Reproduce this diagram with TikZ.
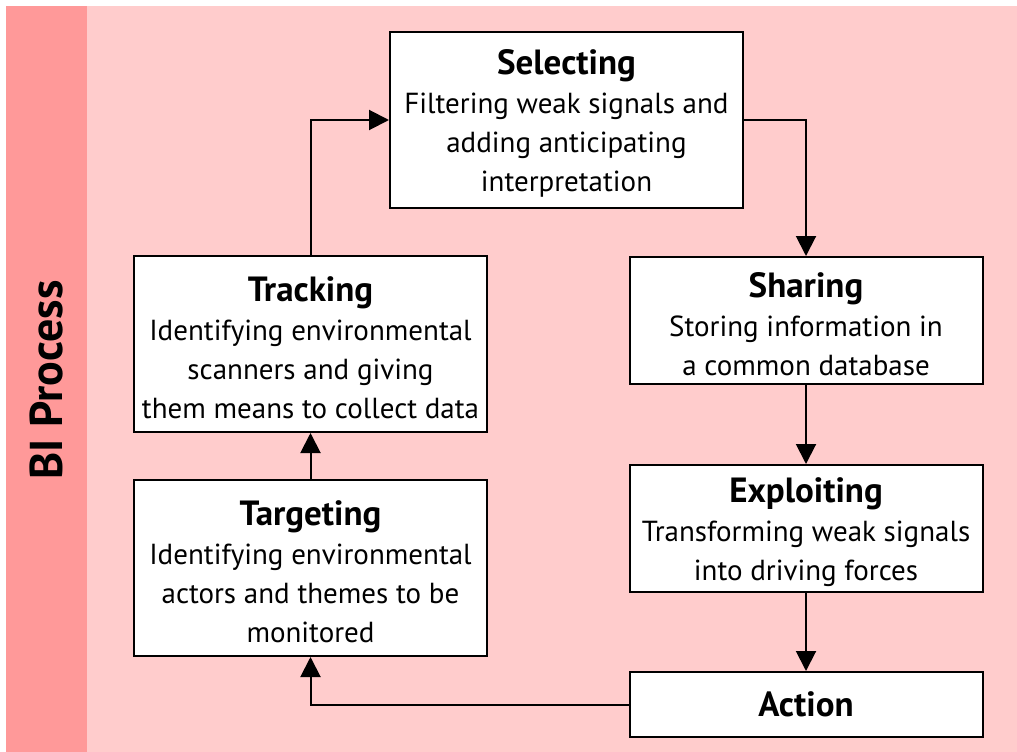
\documentclass[tikz,border=0pt]{standalone}
\usepackage{fontspec}
\setmainfont{PT Sans}
\usetikzlibrary{arrows.meta}
\definecolor{BIlight}{HTML}{FFCCCC}
\definecolor{BIdark}{HTML}{FF9999}
\newcommand{\stagename}[1]{{\bfseries\fontsize{35}{39}\selectfont\rule{0pt}{32pt}#1}}

\begin{document}
\begin{tikzpicture}[x=1pt, y=-1pt,
  stage/.style={draw, line width=2pt, fill=white, align=center, inner sep=0pt,
    minimum width=353pt, font=\fontsize{29}{39}\selectfont},
  flow/.style={line width=2pt, -{Triangle[length=20pt,width=20pt]}}]
\useasboundingbox (0,0) rectangle (1017,752);
\fill[BIlight] (6,6) rectangle (1017,752);
\fill[BIdark] (6,6) rectangle (87,752);
\node[rotate=90, font=\bfseries\fontsize{46}{52}\selectfont] (title) at (46,380) {BI Process};

% the stages
\node[stage, minimum height=176pt] (sel) at (566.5,120)
  {\stagename{Selecting}\\Filtering weak signals and\\adding anticipating\\interpretation};
\node[stage, minimum height=127pt] (sha) at (806,320.5)
  {\stagename{Sharing}\\Storing information in\\a common database};
\node[stage, minimum height=127pt] (exp) at (806,528.5)
  {\stagename{Exploiting}\\Transforming weak signals\\into driving forces};
\node[stage, minimum height=65pt] (act) at (806,704.5)
  {{\bfseries\fontsize{35}{39}\selectfont Action}};
\node[stage, minimum height=176pt] (tar) at (310.5,568)
  {\stagename{Targeting}\\Identifying environmental\\actors and themes to be\\monitored};
\node[stage, minimum height=176pt] (tra) at (310.5,344)
  {\stagename{Tracking}\\Identifying environmental\\scanners and giving\\them means to collect data};

% the cycle
\draw[flow] (tra.north) |- (sel.west);
\draw[flow] (sel.east) -| (sha.north);
\draw[flow] (sha) -- (exp);
\draw[flow] (exp) -- (act);
\draw[flow] (act.west) -| (tar.south);
\draw[flow] (tar) -- (tra);
\end{tikzpicture}
\end{document}
